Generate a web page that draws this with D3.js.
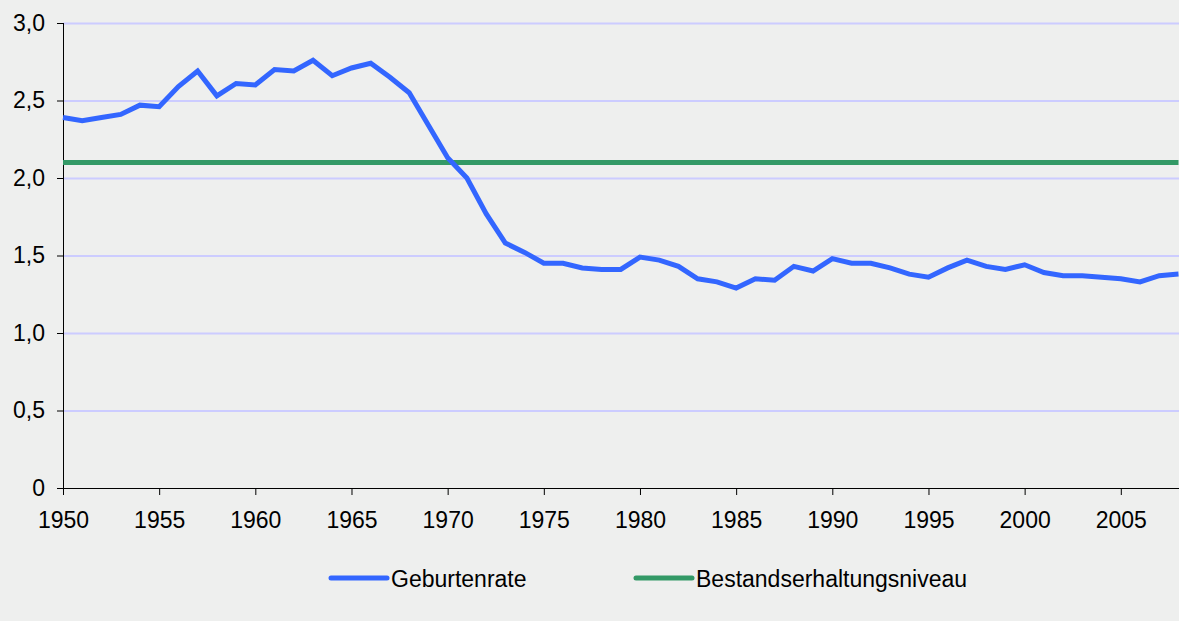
<!DOCTYPE html>
<html>
<head>
<meta charset="utf-8">
<script src="https://cdn.jsdelivr.net/npm/d3@7"></script>
<style>
  html, body { margin: 0; padding: 0; background: #eeefee; }
  svg { display: block; font-family: "Liberation Sans", Arial, sans-serif; }
</style>
</head>
<body>
<svg id="chart"></svg>
<script>
(function() {

// data
var years = d3.range(1950, 2009);
var birthRate = [
  2.39, 2.37, 2.39, 2.41, 2.47, 2.46, 2.59, 2.69, 2.53, 2.61,
  2.60, 2.70, 2.69, 2.76, 2.66, 2.71, 2.74, 2.65, 2.55, 2.34,
  2.13, 2.00, 1.77, 1.58, 1.52, 1.45, 1.45, 1.42, 1.41, 1.41,
  1.49, 1.47, 1.43, 1.35, 1.33, 1.29, 1.35, 1.34, 1.43, 1.40,
  1.48, 1.45, 1.45, 1.42, 1.38, 1.36, 1.42, 1.47, 1.43, 1.41,
  1.44, 1.39, 1.37, 1.37, 1.36, 1.35, 1.33, 1.37, 1.38
];
var replacementLevel = 2.1;
var xTicks = [1950, 1955, 1960, 1965, 1970, 1975, 1980, 1985, 1990, 1995, 2000, 2005];
var yTicks = [0, 0.5, 1.0, 1.5, 2.0, 2.5, 3.0];
var seriesNames = ['Geburtenrate', 'Bestandserhaltungsniveau'];
var seriesColors = ['#3366ff', '#339966'];

var full_width = 1179, full_height = 621;
var margin = {top: 23, right: 0.5, bottom: 133, left: 63};
var width = full_width - margin.left - margin.right,
    height = full_height - margin.top - margin.bottom;

var svg = d3.select("#chart")
    .attr("width", full_width)
    .attr("height", full_height);

svg.append("rect")
    .attr("width", full_width)
    .attr("height", full_height)
    .attr("fill", "#eeefee");

var g = svg.append("g")
    .attr("transform", "translate(" + margin.left + "," + margin.top + ")");

var x = d3.scaleLinear().domain([1950, 2008]).range([0, width]);
var y = d3.scaleLinear().domain([0, 3]).range([height, 0]);

// grid lines
g.append("g")
  .selectAll("line")
  .data(yTicks.filter(function(d) { return d > 0; }))
  .enter().append("line")
    .attr("x1", 0)
    .attr("x2", full_width - margin.left)
    .attr("y1", function(d) { return y(d) + 0.5; })
    .attr("y2", function(d) { return y(d) + 0.5; })
    .attr("stroke", "#ccccff")
    .attr("stroke-width", 2);

// axes
var yAxis = g.append("g")
    .call(d3.axisLeft(y)
      .tickValues(yTicks)
      .tickSize(6)
      .tickPadding(12)
      .tickFormat(function(d) { return d === 0 ? "0" : d3.format(".1f")(d).replace(".", ","); }));

var xAxis = g.append("g")
    .attr("transform", "translate(0," + height + ")")
    .call(d3.axisBottom(x)
      .tickValues(xTicks)
      .tickSize(7)
      .tickPadding(17)
      .tickFormat(d3.format("d")));

[xAxis, yAxis].forEach(function(a) {
  a.select(".domain").attr("stroke", "#000").attr("stroke-width", 1);
  a.selectAll(".tick line").attr("stroke", "#000");
  a.selectAll("text")
    .attr("fill", "#000")
    .style("font-size", "23px")
    .style("font-family", "'Liberation Sans', Arial, sans-serif");
});
xAxis.select(".domain").attr("d", "M-6,0.5H" + (full_width - margin.left));
yAxis.select(".domain").attr("d", "M0.5,0V" + height);

// replacement level
g.append("line")
    .attr("x1", x(1950))
    .attr("x2", x(2008))
    .attr("y1", y(replacementLevel))
    .attr("y2", y(replacementLevel))
    .attr("stroke", seriesColors[1])
    .attr("stroke-width", 5);

// birth rate
var line = d3.line()
    .x(function(d, i) { return x(years[i]); })
    .y(function(d) { return y(d); });

g.append("path")
    .datum(birthRate)
    .attr("fill", "none")
    .attr("stroke", seriesColors[0])
    .attr("stroke-width", 5)
    .attr("stroke-linejoin", "miter")
    .attr("d", line);

// legend
var legendX = [331, 636];
var legend = svg.append("g")
  .selectAll("g")
  .data(seriesNames)
  .enter().append("g")
    .attr("transform", function(d, i) { return "translate(" + legendX[i] + ",578)"; });

legend.append("line")
    .attr("x1", 0)
    .attr("x2", 56)
    .attr("stroke", function(d, i) { return seriesColors[i]; })
    .attr("stroke-width", 5)
    .attr("stroke-linecap", "round");

legend.append("text")
    .attr("x", 60)
    .attr("y", 9)
    .style("font-size", "23px")
    .attr("fill", "#000")
    .text(function(d) { return d; });

})();
</script>
</body>
</html>
